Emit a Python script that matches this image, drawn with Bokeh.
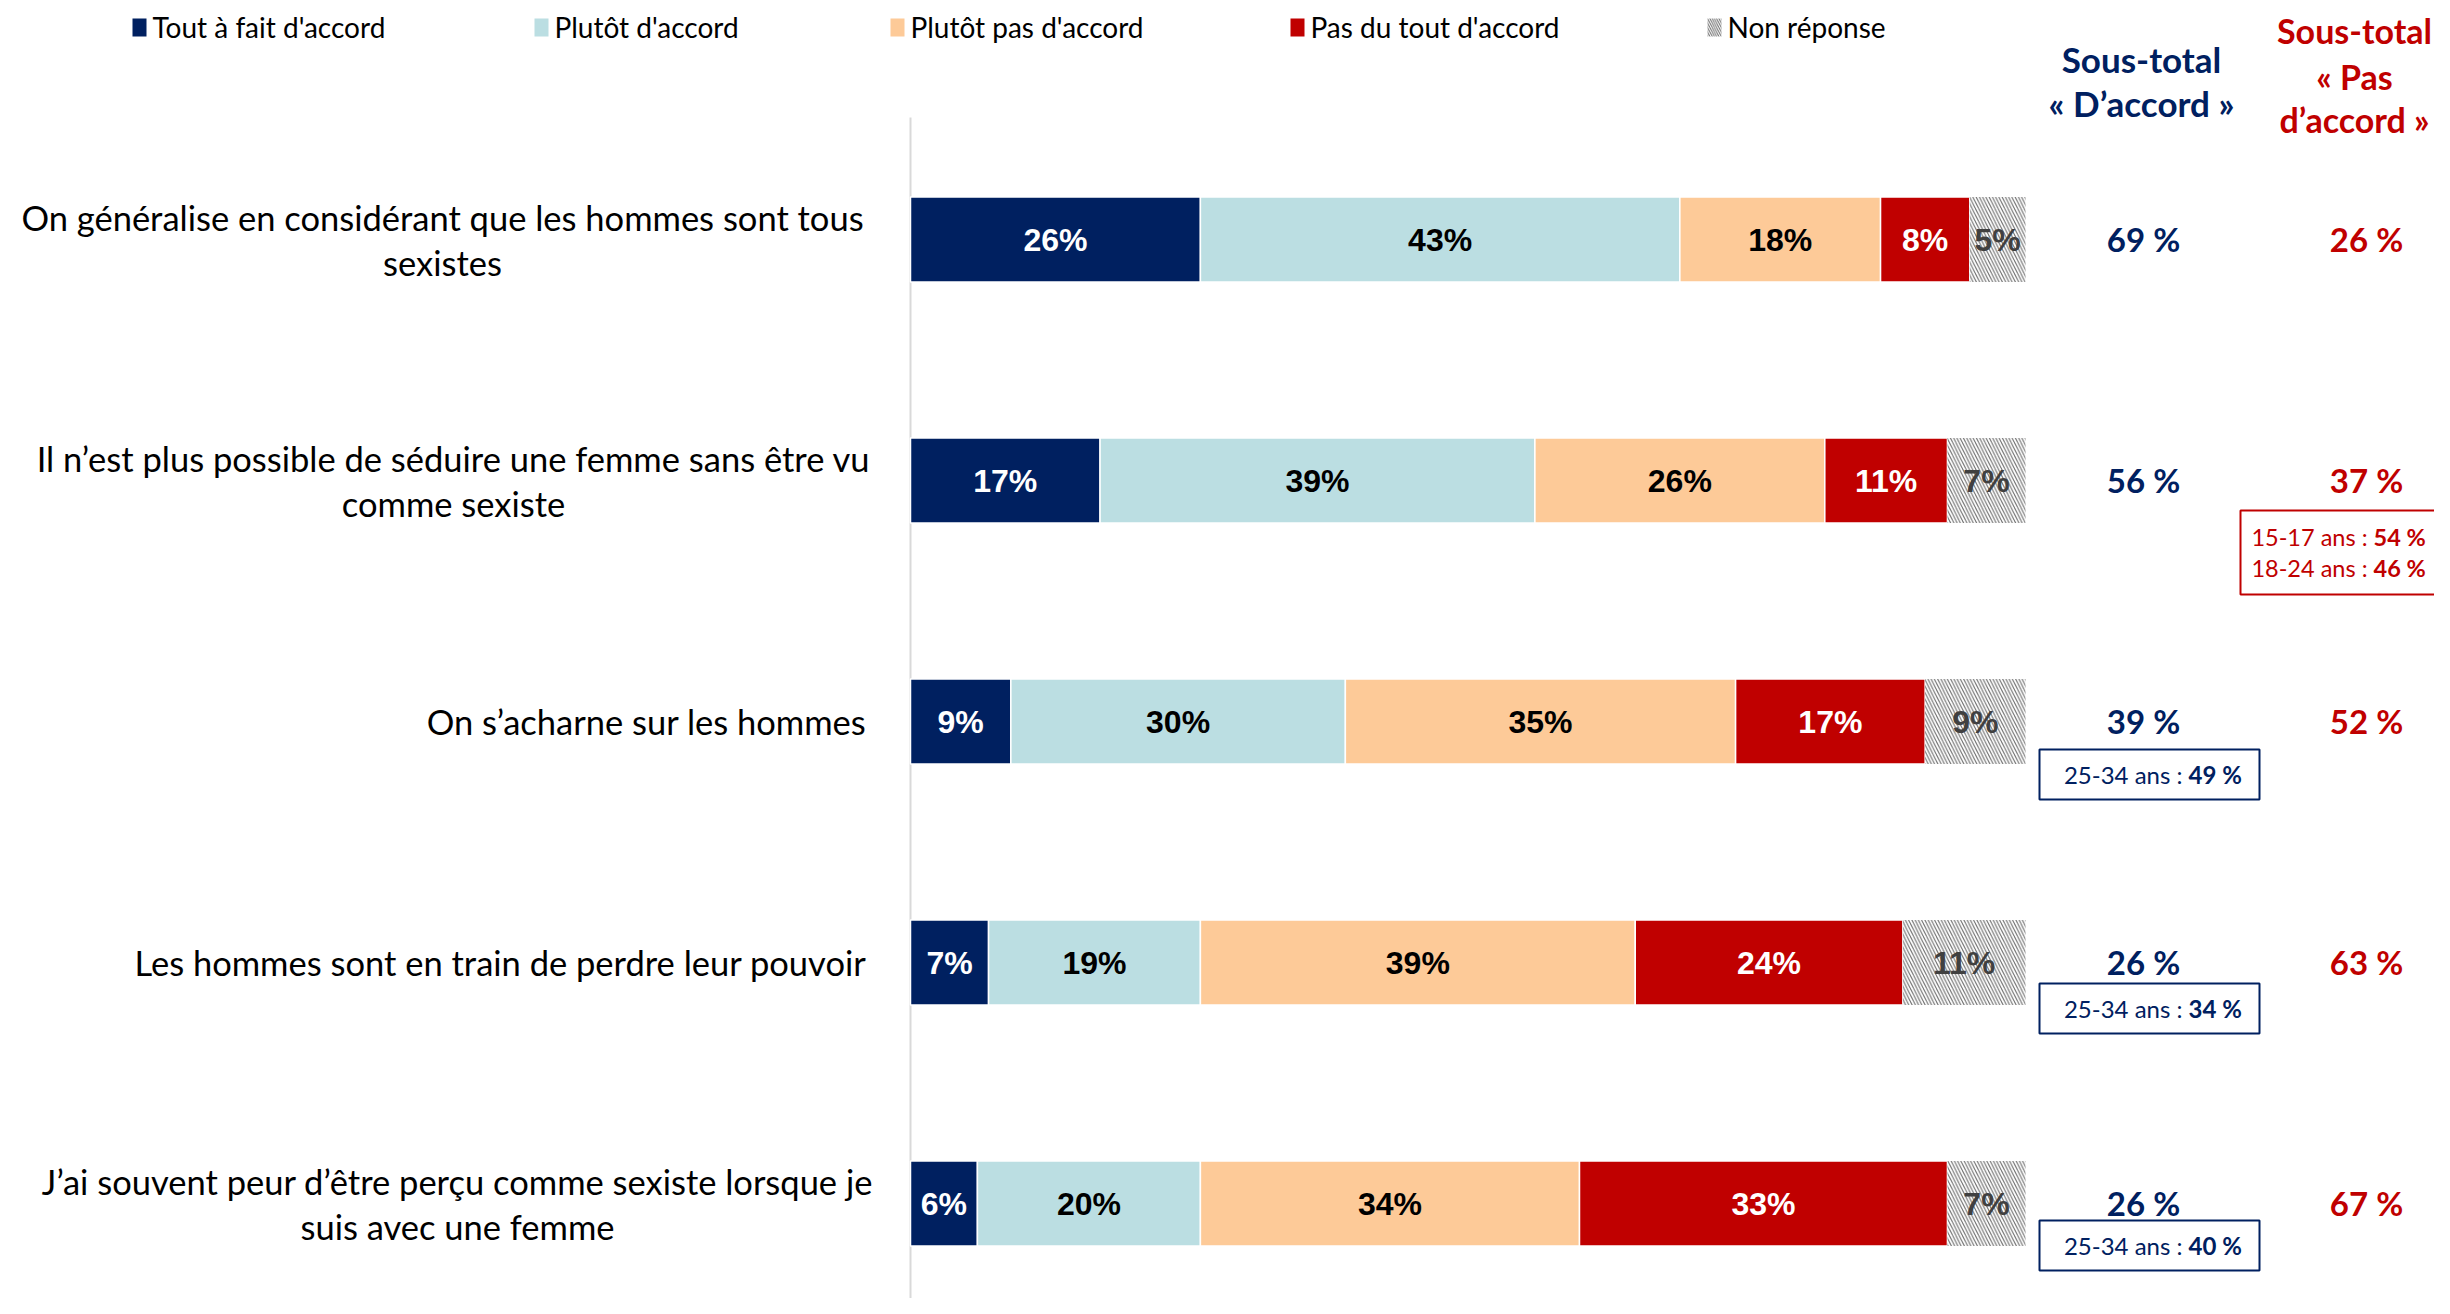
from bokeh.plotting import figure
from bokeh.models import Range1d, ColumnDataSource
from bokeh.embed import file_html
from bokeh.resources import INLINE
from bokeh.core.properties import value

# ---------------- data ----------------
categories = [
    ["On généralise en considérant que les hommes sont tous", "sexistes"],
    ["Il n’est plus possible de séduire une femme sans être vu", "comme sexiste"],
    ["On s’acharne sur les hommes"],
    ["Les hommes sont en train de perdre leur pouvoir"],
    ["J’ai souvent peur d’être perçu comme sexiste lorsque je", "suis avec une femme"],
]
series_names = ["Tout à fait d'accord", "Plutôt d'accord", "Plutôt pas d'accord",
                "Pas du tout d'accord", "Non réponse"]
tout_a_fait = [26, 17, 9, 7, 6]
plutot = [43, 39, 30, 19, 20]
plutot_pas = [18, 26, 35, 39, 34]
pas_du_tout = [8, 11, 17, 24, 33]
non_reponse = [5, 7, 9, 11, 7]
sous_total_accord = [69, 56, 39, 26, 26]
sous_total_pas = [26, 37, 52, 63, 67]
# sub-group notes: row index -> list of (age group, value)
notes_accord = {2: [("25-34 ans", 49)], 3: [("25-34 ans", 34)], 4: [("25-34 ans", 40)]}
notes_pas = {1: [("15-17 ans", 54), ("18-24 ans", 46)]}

# ---------------- style ----------------
NAVY = "#002060"
LBLUE = "#BBDEE2"
PEACH = "#FDCA98"
RED = "#C00000"
GREY = "#404040"
HATCH = "#6E6E6E"
colors = [NAVY, LBLUE, PEACH, RED, "white"]
label_colors = ["white", "#000000", "#000000", "white", GREY]
CAL = "Lato"
ARIAL = "Liberation Sans"

W, H = 2434, 1298
X0, X100 = 910, 2025
K = (X100 - X0) / 100.0
Y0, DY = 239, 241


def dx(sx):
    return (sx - X0) / K


def dy(sy):
    return -(sy - Y0) / DY


p = figure(width=W, height=H, output_backend="svg", toolbar_location=None,
           x_range=Range1d(dx(0), dx(W)), y_range=Range1d(dy(H), dy(0)),
           min_border=0, outline_line_color=None)
p.axis.visible = False
p.grid.visible = False
p.background_fill_color = "white"
p.border_fill_color = "white"


def txt(sx, sy, s, color, size, bold=False, align="center", font=CAL):
    p.text(x=[dx(sx)], y=[dy(sy)], text=[s], text_color=color,
           text_font=value(font), text_font_size=f"{size}px",
           text_font_style="bold" if bold else "normal",
           text_align=align, text_baseline="middle")


# vertical axis line
p.segment(x0=[0], y0=[dy(117)], x1=[0], y1=[dy(1320)], line_color="#D9D9D9", line_width=2)

# ---------------- bars ----------------
series = [tout_a_fait, plutot, plutot_pas, pas_du_tout, non_reponse]
n = len(categories)
ys = [-i for i in range(n)]
cum = [0] * n
bar_h = 85 / DY
for s_idx, vals in enumerate(series):
    left = cum[:]
    right = [l + v for l, v in zip(left, vals)]
    mid = [(l + r) / 2 for l, r in zip(left, right)]
    src = ColumnDataSource(dict(y=ys, left=left, right=right, mid=mid,
                                lbl=[f"{v}%" for v in vals]))
    if s_idx == 4:
        p.hbar(y="y", left="left", right="right", height=bar_h, source=src,
               fill_color="white", line_color=None, hatch_pattern="\\",
               hatch_color=HATCH, hatch_scale=6.5, hatch_weight=1.1)
    else:
        p.hbar(y="y", left="left", right="right", height=bar_h, source=src,
               fill_color=colors[s_idx], line_color="white", line_width=1.5)
    p.text(x="mid", y="y", text="lbl", source=src, text_color=label_colors[s_idx],
           text_font=value(ARIAL), text_font_size="32px", text_font_style="bold",
           text_align="center", text_baseline="middle")
    cum = right

# ---------------- category labels ----------------
label_cx = [442, 453, None, None, 457]  # centre of two-line blocks (layout)
for i, lines in enumerate(categories):
    yc = Y0 + DY * i
    if len(lines) == 1:
        txt(866, yc, lines[0], "#000000", 34.5, align="right")
    else:
        txt(label_cx[i], yc - 22.5, lines[0], "#000000", 34.5)
        txt(label_cx[i], yc + 22.5, lines[1], "#000000", 34.5)

# ---------------- legend ----------------
leg_sw = [139, 541, 897, 1297, 1714]
for i, name in enumerate(series_names):
    if i == 4:
        p.rect(x=[dx(leg_sw[i])], y=[dy(27)], width=14 / K, height=18 / DY,
               fill_color="white", line_color=None, hatch_pattern="\\",
               hatch_color=HATCH, hatch_scale=4.5, hatch_weight=1)
    else:
        p.rect(x=[dx(leg_sw[i])], y=[dy(27)], width=14 / K, height=18 / DY,
               fill_color=colors[i], line_color=None)
    txt(leg_sw[i] + 13, 26, name, "#000000", 28, align="left")

# ---------------- subtotal headers ----------------
txt(2141, 58, "Sous-total", NAVY, 35, bold=True)
txt(2141, 102, "« D’accord »", NAVY, 35, bold=True)
txt(2354, 30, "Sous-total", RED, 34, bold=True)
txt(2354, 76, "« Pas", RED, 34, bold=True)
txt(2354, 119, "d’accord »", RED, 34, bold=True)

# ---------------- subtotal values ----------------
for i in range(n):
    yc = Y0 + DY * i - 1
    txt(2143, yc, f"{sous_total_accord[i]} %", NAVY, 33, bold=True)
    txt(2366, yc, f"{sous_total_pas[i]} %", RED, 33, bold=True)

# ---------------- sub-group boxes ----------------
box_dy = {2: 53, 3: 46, 4: 42}
for i, items in notes_accord.items():
    cy = Y0 + DY * i + box_dy[i]
    p.quad(left=[dx(2039)], right=[dx(2259)], top=[dy(cy - 25)], bottom=[dy(cy + 25)],
           fill_color=None, line_color=NAVY, line_width=2)
    for grp, v in items:
        txt(2182, cy, f"{grp} :", NAVY, 24, align="right")
        txt(2188, cy, f"{v} %", NAVY, 24, bold=True, align="left")

for i, items in notes_pas.items():
    cy = Y0 + DY * i + 72
    p.quad(left=[dx(2240)], right=[dx(2480)], top=[dy(cy - 42)], bottom=[dy(cy + 42)],
           fill_color=None, line_color=RED, line_width=2)
    for j, (grp, v) in enumerate(items):
        ly = cy - 15.5 + 31 * j
        txt(2367, ly, f"{grp} :", RED, 23.5, align="right")
        txt(2373, ly, f"{v} %", RED, 23.5, bold=True, align="left")

open("out.html", "w").write(file_html(p, INLINE))
